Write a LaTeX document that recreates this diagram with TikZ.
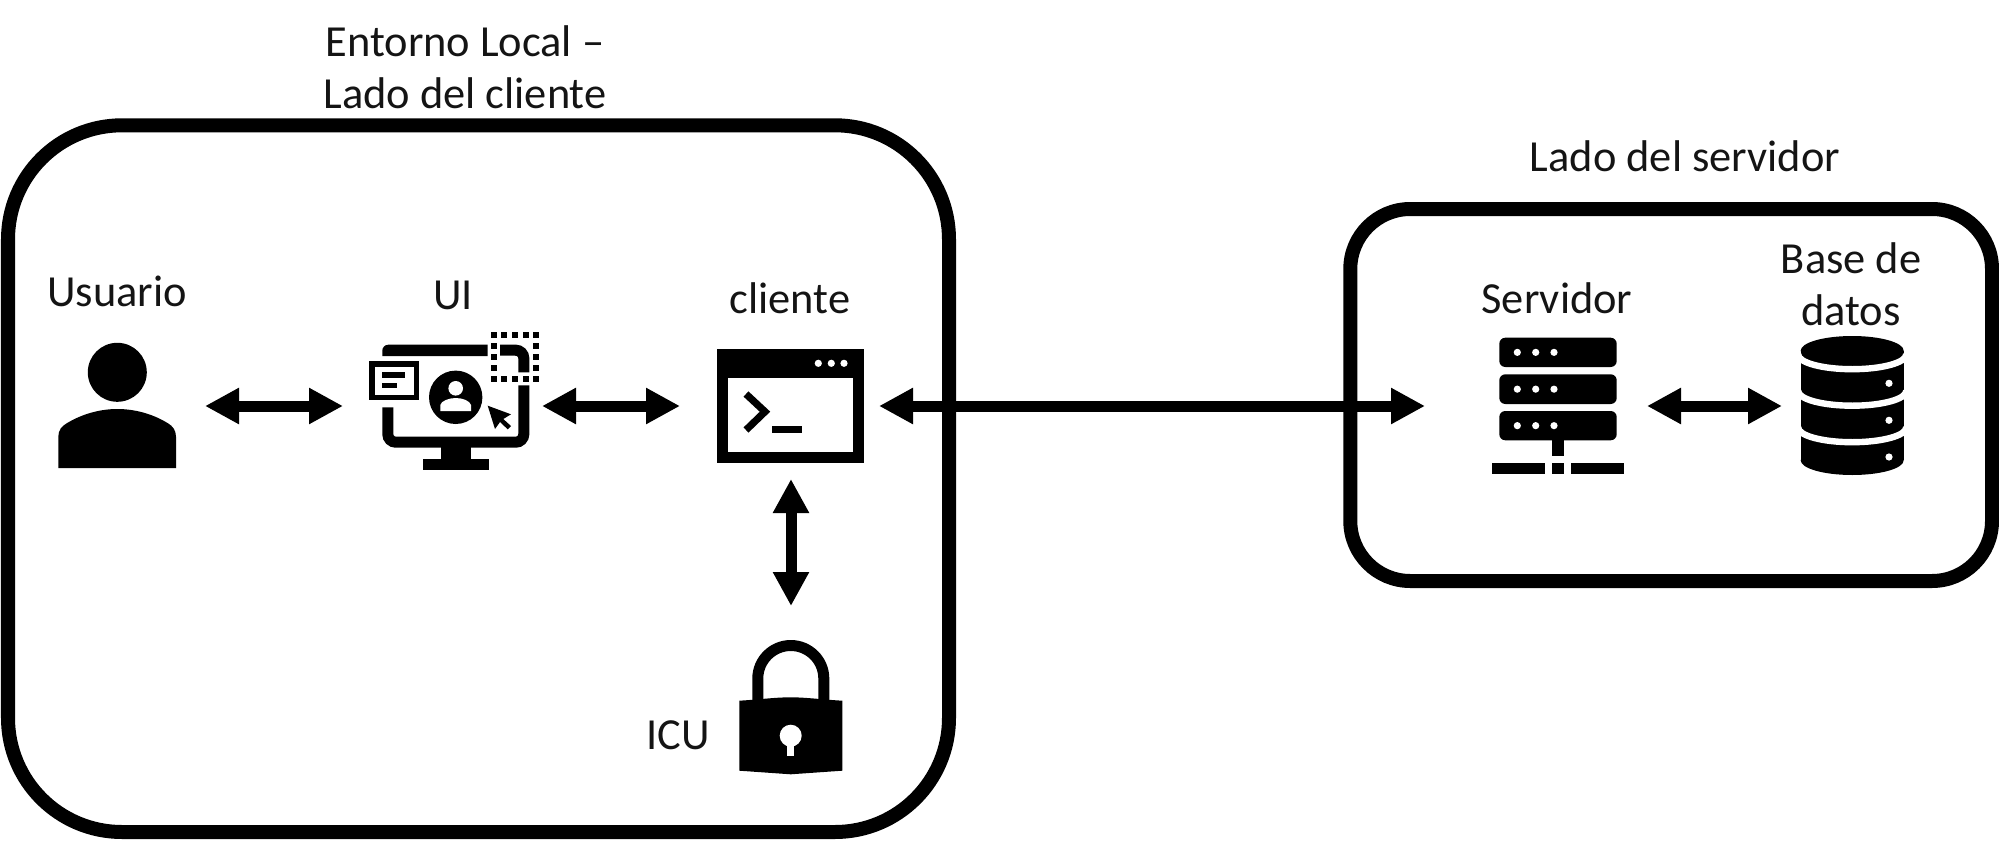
\documentclass[tikz,border=0pt]{standalone}
\usepackage{fontspec}
\setmainfont{Carlito}
\usetikzlibrary{arrows.meta}
\tikzset{
  panel/.style={draw=black,line width=7pt,rounded corners=57pt},
  panelb/.style={draw=black,line width=7pt,rounded corners=30pt},
  hit/.style={inner sep=0pt,outer sep=0pt},
  biarrow/.style={line width=5.5pt,{Triangle[length=17pt,width=17pt]}-{Triangle[length=17pt,width=17pt]}},
  lbl/.style={font=\fontsize{22.2}{26}\selectfont,align=center,inner sep=0pt,text=black!92},
  ic/.style={line width=5.5pt,rounded corners=4pt}
}
\begin{document}
\begin{tikzpicture}[x=0.5pt,y=-0.5pt]
\useasboundingbox (0,0) rectangle (1999,841);
% group panels
\draw[panel] (8,125.3) rectangle (949,832);
\draw[panelb] (1350.3,209) rectangle (1992,581);
% hit boxes that the connectors attach to
\node[hit,minimum width=88pt,minimum height=73pt] (user) at (117,406) {};
\node[hit,minimum width=99.5pt,minimum height=73pt] (ui) at (442.5,406) {};
\node[hit,minimum width=99.5pt,minimum height=73pt] (client) at (779.5,406) {};
\node[hit,minimum width=111pt,minimum height=73pt] (server) at (1536,406) {};
\node[hit,minimum width=70pt,minimum height=73pt] (db) at (1852,406) {};
\node[hit,minimum width=50pt,minimum height=100pt] (lock) at (791,706) {};
% labels
\node[lbl] (t1) at (465,67) {Entorno Local –\\Lado del cliente};
\node[lbl] (t2) at (1685,156) {Lado del servidor};
\node[lbl] (t3) at (117,291) {Usuario};
\node[lbl] (t4) at (453,295) {UI};
\node[lbl] (t5) at (790,298) {cliente};
\node[lbl] (t6) at (678,735) {ICU};
\node[lbl] (t7) at (1557,298) {Servidor};
\node[lbl] (t8) at (1851,284) {Base de\\datos};
% user icon
\fill (117.3,372.3) circle[radius=29.5];
\fill (58.3,468) -- (58.3,436.7) .. controls (58.3,430) and (62,426) .. (66.7,423.3) .. controls (82,414) and (100,409) .. (117.3,409) .. controls (135,409) and (153,414) .. (168,423.3) .. controls (172.5,426) and (176,430) .. (176,436.7) -- (176,468) -- cycle;
% UI icon
\fill (382.3,356) [rounded corners=3pt] -- (382.3,344.7) [sharp corners] -- (487.7,344.7) -- (487.7,356) -- cycle;
\draw[ic] (500,350.2) -- (523.8,350.2) -- (523.8,372.3);
\draw[ic] (387.8,407.3) -- (387.8,442.2) -- (523.8,442.2) -- (523.8,385.3);
\fill (441.3,445) rectangle (470.7,460);
\fill (422.7,459) rectangle (489,470);
\draw[line width=2.7pt] (372,364) rectangle (416.6,397.6);
\fill (382.3,371.7) rectangle (404.7,377.7);
\fill (382.3,382.7) rectangle (397.3,388.3);
\fill (455.7,397.3) circle[radius=26.7];
\fill[white] (455.7,388.3) circle[radius=7.3];
\fill[white] (440.3,411) -- (440.3,405) .. controls (441,401) and (449,398) .. (455.7,398) .. controls (463,398) and (470,401) .. (471,405) -- (471,411) -- cycle;
\fill (487.7,405.7) -- (511,414.3) -- (503.3,419) -- (511,426) -- (507.7,429.3) -- (500,422) -- (495,429) -- cycle;
\foreach \px in {493.7,504,515,526,536}{
  \fill (\px-2.9,335-2.9) rectangle (\px+2.9,335+2.9);
  \fill (\px-2.9,379-2.9) rectangle (\px+2.9,379+2.9);
}
\foreach \py in {346,357,368.3}{
  \fill (493.7-2.9,\py-2.9) rectangle (493.7+2.9,\py+2.9);
  \fill (536-2.9,\py-2.9) rectangle (536+2.9,\py+2.9);
}
% client icon
\fill (717.3,348.7) rectangle (864.3,462.7);
\fill[white] (728.3,378) rectangle (853.3,451.7);
\foreach \px in {818.3,831.3,844}{\fill[white] (\px,363.3) circle[radius=3.6];}
\draw[line width=3.6pt] (746,394) -- (765,411.7) -- (746,430);
\fill (772.3,426) rectangle (802,433.3);
% lock icon
\draw[line width=5.5pt] (757.8,702) -- (757.8,678.5) arc[start angle=180,end angle=360,radius=33] -- (823.8,702);
\fill (739.3,700.7) .. controls (760,699.5) and (775,697.3) .. (790.7,697.3) .. controls (806,697.3) and (821,699.5) .. (842.3,700.7) -- (842.3,770.7) -- (790.7,774.3) -- (739.3,770.7) -- cycle;
\fill[white] (790.7,735.7) circle[radius=11];
\fill[white] (787.3,740) rectangle (794.3,756);
% server icon
\foreach \ya/\yb in {337.7/367,374.3/404,411/440.3}{
  \fill[rounded corners=3pt] (1499.3,\ya) rectangle (1616.7,\yb);
  \foreach \px in {1517.3,1535.7,1554}{\fill[white] (\px,{(\ya+\yb)/2}) circle[radius=3.6];}
}
\fill (1552.3,440) rectangle (1563.7,455.7);
\fill (1491.7,462.7) rectangle (1545,473.7);
\fill (1552.3,462.7) rectangle (1563.7,473.7);
\fill (1570.7,462.7) rectangle (1624.3,473.7);
% database icon
\fill (1852.2,350.7) ellipse[x radius=51.5,y radius=14.7];
\fill (1800.7,350.7) rectangle (1903.7,460.3);
\fill (1852.2,460.3) ellipse[x radius=51.5,y radius=14.7];
\foreach \yc in {354.5,391,427.5}{
  \draw[white,line width=3.2pt] (1852.2+54,\yc) arc[start angle=0,end angle=180,x radius=54,y radius=14.7];
}
\foreach \py in {383.3,420.3,457}{\fill[white] (1889,\py) circle[radius=3.6];}
% connectors
\draw[biarrow] (user.east) -- (ui.west);
\draw[biarrow] (ui.east) -- (client.west);
\draw[biarrow] (client.east) -- (server.west);
\draw[biarrow] (server.east) -- (db.west);
\draw[biarrow] (client.south -| lock.north) -- (lock.north);
\end{tikzpicture}
\end{document}
